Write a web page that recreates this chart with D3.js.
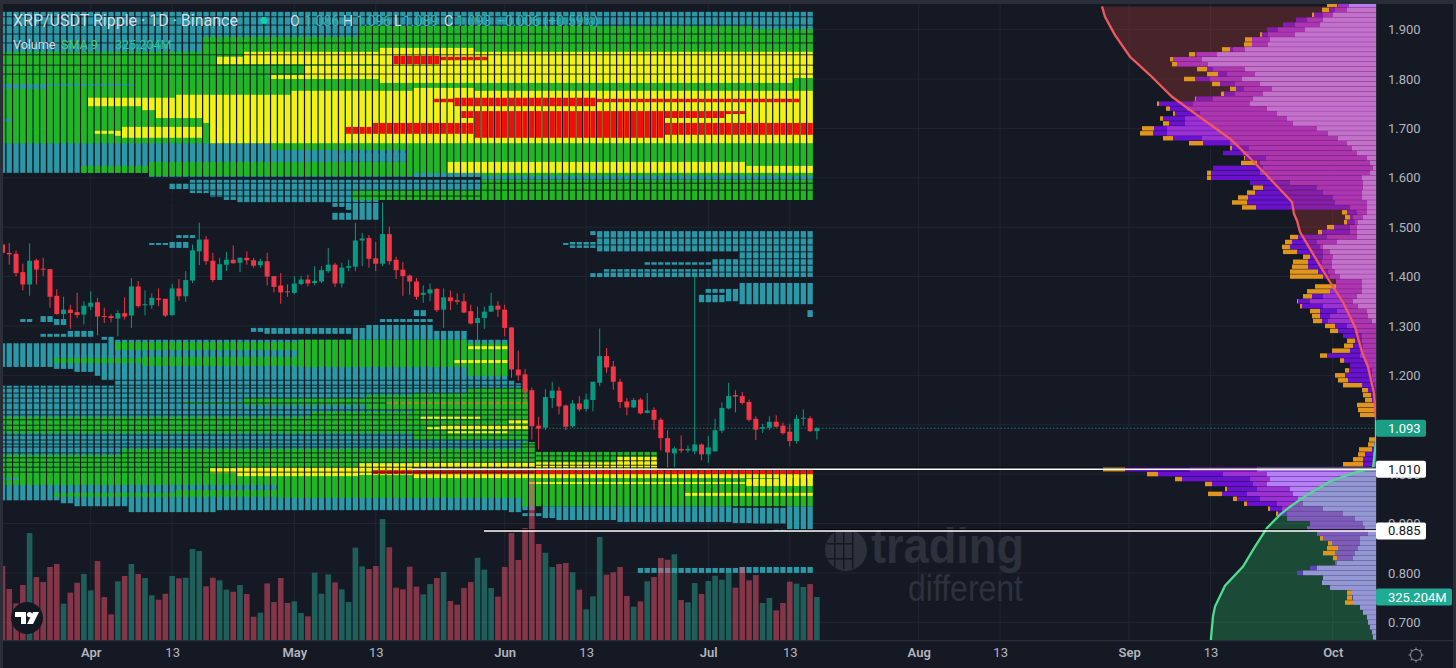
<!DOCTYPE html>
<html lang="en">
  <head>
    <meta charset="utf-8">
    <title>XRP/USDT Ripple 1D Binance</title>
    <style>
      html, body { margin: 0; padding: 0; background: #151924; overflow: hidden; }
      svg { display: block; font-family: Roboto, Arial, sans-serif; }
      .axis text { fill: #b2b5be; font-size: 13px; font-family: Roboto, Arial, sans-serif; }
      .axis .domain { display: none; }
    </style>
  </head>
  <body>
    <svg id="chart" width="1456" height="668"></svg>

    <script src="https://d3js.org/d3.v7.min.js"></script>
    <script>
      // daily candles, first bar 19 Mar
      const opens = [
        1.465,1.448,1.446,1.409,1.384,1.433,1.416,1.415,1.361,1.324,
        1.333,1.328,1.323,1.339,1.348,1.320,1.320,1.315,1.326,1.321,
        1.380,1.342,1.342,1.356,1.355,1.322,1.376,1.360,1.392,1.451,
        1.475,1.432,1.393,1.424,1.434,1.428,1.438,1.433,1.423,1.431,
        1.401,1.382,1.370,1.367,1.385,1.394,1.387,1.390,1.411,1.424,
        1.386,1.418,1.420,1.473,1.478,1.437,1.426,1.486,1.434,1.414,
        1.402,1.390,1.363,1.366,1.375,1.333,1.358,1.352,1.350,1.330,
        1.306,1.316,1.329,1.341,1.333,1.297,1.212,1.202,1.170,1.098,
        1.094,1.154,1.169,1.139,1.097,1.143,1.132,1.150,1.185,1.239,
        1.218,1.187,1.147,1.135,1.151,1.124,1.130,1.110,1.073,1.042,
        1.051,1.048,1.046,1.060,1.040,1.046,1.088,1.133,1.160,1.158,
        1.146,1.112,1.092,1.094,1.106,1.098,1.086,1.067,1.112,1.113,
        1.087];
      const closes = [
        1.448,1.445,1.407,1.384,1.432,1.414,1.414,1.359,1.324,1.333,
        1.326,1.322,1.341,1.347,1.319,1.318,1.316,1.326,1.319,1.380,
        1.340,1.344,1.357,1.353,1.321,1.376,1.360,1.393,1.453,1.475,
        1.431,1.393,1.425,1.434,1.427,1.438,1.433,1.422,1.431,1.400,
        1.379,1.368,1.368,1.386,1.394,1.386,1.391,1.413,1.424,1.386,
        1.418,1.421,1.473,1.477,1.436,1.426,1.486,1.431,1.413,1.401,
        1.390,1.359,1.367,1.374,1.332,1.358,1.350,1.349,1.327,1.305,
        1.316,1.329,1.341,1.333,1.296,1.212,1.200,1.168,1.097,1.092,
        1.156,1.169,1.137,1.096,1.143,1.131,1.151,1.187,1.239,1.216,
        1.187,1.146,1.135,1.150,1.123,1.129,1.110,1.073,1.044,1.052,
        1.048,1.051,1.060,1.040,1.054,1.089,1.134,1.158,1.157,1.144,
        1.110,1.090,1.095,1.106,1.096,1.083,1.067,1.112,1.114,1.087,
        1.093];
      const highs = [
        1.465,1.468,1.453,1.426,1.467,1.436,1.438,1.415,1.374,1.359,
        1.343,1.367,1.350,1.370,1.357,1.337,1.324,1.332,1.358,1.397,
        1.391,1.372,1.366,1.376,1.355,1.385,1.395,1.411,1.465,1.509,
        1.482,1.448,1.438,1.450,1.463,1.439,1.451,1.438,1.436,1.448,
        1.401,1.407,1.384,1.401,1.401,1.404,1.421,1.421,1.458,1.428,
        1.428,1.434,1.509,1.488,1.484,1.470,1.550,1.501,1.440,1.429,
        1.404,1.397,1.382,1.386,1.377,1.376,1.372,1.366,1.366,1.343,
        1.339,1.339,1.367,1.350,1.343,1.297,1.250,1.213,1.175,1.116,
        1.172,1.187,1.177,1.141,1.150,1.158,1.163,1.187,1.295,1.255,
        1.229,1.193,1.154,1.154,1.154,1.164,1.135,1.114,1.089,1.056,
        1.078,1.058,1.404,1.062,1.077,1.112,1.145,1.185,1.170,1.166,
        1.151,1.117,1.102,1.117,1.119,1.104,1.102,1.120,1.131,1.117,
        1.095];
      const lows = [
        1.448,1.424,1.401,1.372,1.361,1.384,1.401,1.337,1.323,1.306,
        1.294,1.316,1.303,1.332,1.281,1.306,1.307,1.279,1.313,1.296,
        1.337,1.321,1.335,1.340,1.318,1.320,1.351,1.349,1.387,1.423,
        1.424,1.389,1.393,1.411,1.426,1.409,1.424,1.418,1.418,1.382,
        1.368,1.345,1.359,1.364,1.382,1.380,1.382,1.387,1.407,1.379,
        1.378,1.411,1.411,1.421,1.418,1.411,1.421,1.424,1.395,1.361,
        1.363,1.353,1.347,1.350,1.328,1.296,1.332,1.343,1.326,1.303,
        1.268,1.294,1.328,1.318,1.279,1.195,1.189,1.148,1.070,1.050,
        1.089,1.134,1.121,1.089,1.094,1.127,1.127,1.127,1.178,1.205,
        1.171,1.134,1.119,1.134,1.121,1.123,1.090,1.048,1.013,1.013,
        1.043,1.043,1.040,1.028,1.023,1.046,1.083,1.131,1.125,1.141,
        1.107,1.069,1.083,1.089,1.094,1.080,1.056,1.062,1.098,1.085,
        1.070];
      // volume in millions
      const volumes = [
        559,386,277,416,809,476,438,552,575,275,
        358,433,499,375,597,325,194,444,484,575,
        499,469,338,305,350,484,466,471,688,673,
        406,471,451,381,365,416,348,176,207,428,
        287,469,280,292,204,179,509,350,496,436,
        383,287,698,557,537,559,915,701,396,383,
        554,403,345,423,469,514,295,267,393,438,
        622,532,393,328,552,809,605,847,1205,726,
        660,552,575,582,512,381,232,330,779,494,
        512,552,333,252,292,444,476,620,607,648,
        302,285,431,348,446,486,456,512,396,552,
        451,491,280,318,224,280,441,426,401,423,
        325.204];

      const gridPrices = [1.9,1.8,1.7,1.6,1.5,1.4,1.3,1.2,1.1,1.0,0.9,0.8,0.7];
      // 1.100 sits fully behind the last price label, so it gets no text of its own
      const priceLabels = [1.9,1.8,1.7,1.6,1.5,1.4,1.3,1.2,1.0,0.9,0.8,0.7];
      const tickDays = ["2021-04-01","2021-04-13","2021-05-01","2021-05-13","2021-06-01","2021-06-13",
        "2021-07-01","2021-07-13","2021-08-01","2021-08-13","2021-09-01","2021-09-13","2021-10-01"];
      const tickLabels = ["Apr","13","May","13","Jun","13","Jul","13","Aug","13","Sep","13","Oct"];

      // depth heatmap: [high price, low price, first bar, last bar]
      const tealBands = [
        [1.936,1.610,0,21],[1.936,1.602,22,119],[1.589,1.577,25,27],[1.596,1.569,28,30],
        [1.596,1.561,31,32],[1.596,1.555,33,34],[1.596,1.549,35,48],[1.596,1.541,49,50],
        [1.596,1.535,51,51],[1.529,1.515,49,51],[1.596,1.515,52,55],[1.596,1.575,56,70],
        [1.604,1.596,71,119],
        [1.492,1.484,87,87],[1.470,1.458,84,87],[1.468,1.464,83,83],[1.492,1.450,88,119],
        [1.450,1.399,109,119],[1.436,1.399,105,108],[1.429,1.423,95,104],[1.415,1.399,89,104],
        [1.407,1.399,87,88],[1.387,1.344,109,119],[1.375,1.350,107,108],[1.363,1.348,103,106],
        [1.375,1.367,104,106],[1.332,1.318,119,119],
        [1.484,1.478,26,28],[1.470,1.458,25,27],[1.468,1.464,22,24],
        [1.314,1.308,3,4],[1.320,1.308,6,7],[1.314,1.302,8,9],[1.284,1.278,6,9],[1.290,1.278,10,13],
        [1.278,1.272,15,15],[1.296,1.288,37,38],[1.296,1.284,39,51],[1.296,1.272,52,53],
        [1.302,1.272,54,63],[1.314,1.308,56,63],[1.332,1.320,61,62],[1.290,1.272,64,68],
        [1.265,1.217,0,7],[1.265,1.213,8,10],[1.265,1.207,11,13],[1.265,1.199,14,14],[1.265,1.190,15,15],
        [1.278,1.190,16,16],[1.180,0.947,0,8],[1.180,0.941,9,10],[1.180,0.935,11,16],
        [1.272,0.935,17,18],[1.272,0.923,19,31],[1.272,0.927,32,74],[1.190,0.923,75,75],[1.184,0.923,76,76],
        [1.144,0.927,77,77],[1.065,0.927,78,78],[0.921,0.915,77,81],[0.935,0.911,80,81],
        [0.935,0.907,82,90],[0.935,0.903,91,107],[0.932,0.901,108,110],[0.932,0.900,111,115],
        [0.935,0.887,116,119],[0.889,0.885,114,115],[0.810,0.800,94,108],[0.812,0.800,109,119]
      ];
      const greenBands = [
        [1.855,1.670,0,29],[1.885,1.670,30,39],[1.885,1.656,40,52],[1.907,1.656,53,61],
        [1.907,1.670,62,110],[1.901,1.670,111,119],[1.670,1.632,60,119],
        [1.624,1.610,12,21],[1.632,1.604,22,119],[1.575,1.555,52,70],[1.596,1.555,71,119],
        [1.267,1.251,17,43],[1.235,1.225,8,20],[1.237,1.219,21,43],[1.272,1.217,44,68],[1.265,1.199,69,74],
        [1.146,1.142,27,35],[1.154,1.140,36,53],[1.160,1.130,54,60],[1.164,1.069,61,68],[1.174,1.069,69,77],
        [1.126,1.110,46,60],[1.116,1.083,0,60],
        [1.039,0.978,0,17],[1.051,0.978,18,40],[1.051,0.952,41,76],[0.968,0.954,26,40],[0.962,0.954,8,25],
        [1.065,0.935,77,78],[1.045,0.935,79,96],[1.008,0.935,97,119]
      ];
      const tealStripes = [
        [1.790,1.780,0,6],[1.790,1.786,7,19],[1.720,1.713,0,1],
        [1.656,1.632,40,49],[1.650,1.634,50,59],[1.240,1.237,8,20],[0.992,0.988,0,2],
        [1.610,1.602,61,70]
      ];
      const yellowBands = [
        [1.855,1.830,36,55],[1.845,1.830,32,35],[1.828,1.808,45,55],[1.808,1.800,40,55],
        [1.863,1.792,56,69],[1.855,1.792,70,116],[1.855,1.802,117,119],
        [1.762,1.745,13,20],[1.762,1.737,21,22],[1.762,1.721,23,25],[1.768,1.721,26,29],[1.768,1.711,30,30],
        [1.768,1.670,31,42],[1.776,1.670,43,60],[1.782,1.670,61,69],[1.776,1.670,70,119],
        [1.695,1.689,14,16],[1.695,1.685,17,17],[1.703,1.681,18,29],
        [1.632,1.610,66,109],[1.624,1.610,110,119],
        [1.146,1.142,57,77],[1.116,1.112,62,70],[1.110,1.103,75,77],[1.095,1.091,63,65],[1.099,1.091,65,77],
        [1.087,1.083,66,74],[1.259,1.253,69,74],[1.231,1.225,67,74],
        [1.012,1.002,31,34],[1.014,0.996,35,52],[1.022,0.998,53,60],[1.024,1.008,61,96],[1.035,1.010,91,96],
        [1.000,0.992,61,119],[0.984,0.980,78,110],[0.990,0.976,110,114],[0.998,0.976,115,119],[0.962,0.956,101,119]
      ];
      const redBands = [
        [1.847,1.830,58,64],[1.845,1.838,65,71],
        [1.703,1.689,51,54],[1.711,1.689,55,69],[1.735,1.721,68,69],[1.735,1.681,70,97],
        [1.711,1.687,98,119],[1.735,1.721,98,106],[1.735,1.729,107,109],
        [1.760,1.753,64,66],[1.762,1.745,67,87],[1.760,1.753,88,117],
        [1.008,1.000,55,119]
      ];
      // thin dark rows inside the heatmap: prices and bar range
      const gapRows = [
        {prices:[1.926,1.909,1.891,1.873,1.849,1.828,1.810], from:0, to:119},
        {prices:[1.589,1.575,1.563,1.550], from:25, to:70},
        {prices:[1.589,1.575], from:71, to:119},
        {prices:[1.478,1.464,1.450], from:84, to:119},
        {prices:[1.436,1.423,1.409], from:87, to:119},
        {prices:[1.190,1.180,1.174,1.164,1.154,1.144,1.130,1.120,1.110,1.099,1.089,1.079,1.069,1.061,1.055,1.043,1.033,1.024,1.014,1.004], from:0, to:78},
        {prices:[1.037,1.027,1.018], from:79, to:96}
      ];

      // volume profile, one row every 0.01 from 1.95 down to 0.66; outer edge of each layer
      const profileTop = 1.95, profileStep = 0.01;
      const profileOrange = [
        49,54,64,80,93,109,116,131,132,154, 187,206,204,179,169,192,164,146,155,181,
        219,210,203,216,213,234,236,213,187,146, 153,132,135,163,169,169,126,123,129,138,
        144,134,34,31,32,49,58,86,91,94, 93,73,83,84,86,86,40,61,69,73,
        79,76,66,64,63,51,46,33,29,32, 44,56,36,26,31,41,38,33,14,13,
        11,19,18,16,0,0,0,0,7,8, 17,18,23,33,273,229,201,171,151,168,
        143,132,108,100,89,66,69,59,56,48, 49,53,43,41,66,79,53,54,46,29,
        29,31,16,13,9,8,6,4,3,2];
      const profilePurple = [
        39,47,62,80,93,109,114,124,124,146, 181,203,199,169,158,181,156,140,152,180,
        217,206,201,213,207,222,223,203,173,144, 153,131,119,163,165,165,126,113,121,128,
        129,120,29,26,29,42,54,78,84,86, 79,66,68,68,58,53,40,40,46,64,
        78,74,56,56,54,41,38,33,21,23, 26,49,32,26,27,31,28,14,8,5,
        4,2,1,0,0,0,0,0,0,2, 4,11,13,13,251,218,194,164,149,154,
        139,129,106,98,89,66,69,59,53,44, 38,41,39,41,66,79,53,54,46,24,
        24,23,16,13,9,8,6,4,3,2];
      const profileViolet = [
        38,41,53,69,81,98,108,124,124,143, 179,203,199,163,149,166,141,132,141,163,
        183,189,176,191,191,209,209,174,146,127, 133,110,116,113,116,109,86,59,53,43,
        41,26,19,23,21,26,26,49,59,56, 53,53,54,56,48,46,40,40,46,53,
        66,53,39,46,48,29,21,14,14,13, 14,16,11,8,4,4,3,1,0,0,
        0,0,0,0,0,0,0,0,0,0, 0,3,3,3,186,153,126,123,119,129,
        116,99,94,89,89,66,69,59,53,44, 38,41,39,41,59,73,53,54,46,24,
        23,23,16,13,9,8,6,4,3,2];
      const profileLilac = [
        27,29,43,53,56,71,81,106,108,131, 159,174,168,131,121,134,116,104,113,123,
        126,109,99,89,83,59,48,38,29,24, 19,9,6,3,6,14,13,13,14,14,
        9,9,9,13,18,19,19,19,39,53, 46,43,44,44,41,36,14,14,14,19,
        23,18,9,8,4,0,0,0,0,0, 0,0,0,0,0,0,0,0,0,0,
        0,0,0,0,0,0,0,0,0,0, 0,0,0,0,119,109,106,109,86,83,
        78,73,53,33,21,13,11,8,16,16, 18,21,23,39,59,73,53,54,46,24,
        23,23,16,13,9,8,6,4,3,2];

      // the overlay curves on the profile: [price, value]
      const redCurve = [[1.947,274],[1.926,271],[1.889,261],[1.845,246],[1.808,226],[1.764,204],[1.727,179],
        [1.679,146],[1.646,129],[1.598,106],[1.551,84],[1.527,82],[1.513,79],[1.49,76],[1.456,66],[1.422,56],
        [1.389,46],[1.348,33],[1.298,21],[1.247,14],[1.217,8],[1.163,2],[1.11,0]];
      const greenCurve = [[1.11,0],[1.069,0],[1.049,1],[1.012,3],[1.002,23],[0.985,46],[0.958,69],[0.934,86],
        [0.918,96],[0.891,109],[0.853,121],[0.813,133],[0.774,151],[0.732,161],[0.712,163],[0.668,165],[0.655,165]];

      const lastPrice = 1.093, supportHigh = 1.010, supportLow = 0.885, lastVolume = 325.204;

      const colors = {
        bg: "#151924", frame: "#2a2e39", grid: "#222631",
        teal: "#2a98a6", green: "#1fb81f", yellow: "#f8f010", red: "#f20d0d",
        up: "#089981", down: "#f23645",
        orange: "#e0951e", purple: "#6a10d0", violet: "#9b30d3", lilac: "#b481f4"
      };

      const svg = d3.select("#chart");
      const width = 1456, height = 668;
      const pane = {left: 3, top: 4, right: 1376, bottom: 640};

      const firstBar = new Date(Date.UTC(2021, 2, 19));
      const dates = opens.map((_, i) => d3.utcDay.offset(firstBar, i));
      const tickDates = tickDays.map(d => new Date(d + "T00:00:00Z"));

      const x = d3.scaleUtc().domain([tickDates[0], tickDates[12]]).range([90.7, 1332.7]);
      const y = d3.scaleLinear().domain([1.9, 0.7]).range([29.6, 622.3]);
      const yVol = d3.scaleLinear().domain([0, lastVolume]).range([640, 597]);
      const xProfile = d3.scaleLinear().domain([0, 300]).range([pane.right, pane.right - 300]);

      svg.append("rect").attr("width", width).attr("height", height).attr("fill", colors.bg);

      svg.append("defs").append("clipPath").attr("id", "pane").append("rect")
        .attr("x", pane.left).attr("y", pane.top)
        .attr("width", pane.right - pane.left).attr("height", pane.bottom - pane.top);

      const plot = svg.append("g").attr("clip-path", "url(#pane)");

      // grid
      plot.append("g").selectAll("line").data(tickDates).join("line")
        .attr("x1", d => x(d)).attr("x2", d => x(d))
        .attr("y1", pane.top).attr("y2", pane.bottom)
        .attr("stroke", colors.grid);
      plot.append("g").selectAll("line").data(gridPrices).join("line")
        .attr("x1", pane.left).attr("x2", pane.right)
        .attr("y1", d => y(d)).attr("y2", d => y(d))
        .attr("stroke", colors.grid);

      // watermark
      const mark = plot.append("g").attr("fill", "#2d313c");
      mark.append("circle").attr("cx", 846).attr("cy", 550).attr("r", 21);
      [834, 843, 852].forEach(v => mark.append("rect").attr("x", v).attr("y", 531).attr("width", 1.5).attr("height", 38).attr("fill", colors.bg));
      [543, 558].forEach(v => mark.append("rect").attr("x", 827).attr("y", v).attr("width", 26).attr("height", 1.5).attr("fill", colors.bg));
      mark.append("text").attr("x", 871).attr("y", 563).attr("font-size", 50).attr("font-weight", 800)
        .attr("font-family", "Liberation Sans, Arial, sans-serif")
        .attr("textLength", 153).attr("lengthAdjust", "spacingAndGlyphs").text("trading");
      mark.append("text").attr("x", 908).attr("y", 601).attr("font-size", 36)
        .attr("font-family", "Liberation Sans, Arial, sans-serif")
        .attr("textLength", 115).attr("lengthAdjust", "spacingAndGlyphs").text("different");

      // last price dotted line
      plot.append("line")
        .attr("x1", pane.left).attr("x2", pane.right)
        .attr("y1", y(lastPrice)).attr("y2", y(lastPrice))
        .attr("stroke", colors.up).attr("stroke-dasharray", "1.5 2").attr("opacity", .8);

      // heatmap
      const columnWidth = 5.3;
      const layers = [
        {bands: tealBands, color: colors.teal},
        {bands: greenBands, color: colors.green},
        {bands: tealStripes, color: colors.teal},
        {bands: yellowBands, color: colors.yellow},
        {bands: redBands, color: colors.red}
      ];
      const heat = plot.append("g");
      layers.forEach(layer => {
        const cells = layer.bands.flatMap(b => d3.range(b[2], b[3] + 1).map(i => ({hi: b[0], lo: b[1], i})));
        heat.append("g").attr("fill", layer.color).selectAll("rect").data(cells).join("rect")
          .attr("x", d => x(dates[d.i]) - columnWidth / 2)
          .attr("y", d => y(d.hi))
          .attr("width", columnWidth)
          .attr("height", d => y(d.lo) - y(d.hi));
      });
      gapRows.forEach(row => {
        heat.append("g").selectAll("line").data(row.prices).join("line")
          .attr("x1", x(dates[row.from]) - 3.4).attr("x2", x(dates[row.to]) + 3.4)
          .attr("y1", d => y(d)).attr("y2", d => y(d))
          .attr("stroke", colors.bg).attr("stroke-width", 1).attr("opacity", .85);
      });

      // volume
      plot.append("g").selectAll("rect").data(volumes).join("rect")
        .attr("x", (d, i) => x(dates[i]) - 2.8)
        .attr("y", d => yVol(d))
        .attr("width", 5.6)
        .attr("height", d => yVol(0) - yVol(d))
        .attr("fill", (d, i) => closes[i] >= opens[i] ? "#2ba38f" : "#f2546b")
        .attr("opacity", .5);

      // candles
      const candleGroup = plot.append("g").selectAll("g").data(dates).join("g")
        .attr("fill", (d, i) => closes[i] >= opens[i] ? colors.up : colors.down)
        .attr("stroke", (d, i) => closes[i] >= opens[i] ? colors.up : colors.down);
      candleGroup.append("line")
        .attr("x1", d => x(d)).attr("x2", d => x(d))
        .attr("y1", (d, i) => y(highs[i])).attr("y2", (d, i) => y(lows[i]))
        .attr("stroke-width", 1);
      candleGroup.append("rect")
        .attr("x", d => x(d) - 2.5)
        .attr("y", (d, i) => y(Math.max(opens[i], closes[i])))
        .attr("width", 5)
        .attr("height", (d, i) => Math.max(1, y(Math.min(opens[i], closes[i])) - y(Math.max(opens[i], closes[i]))))
        .attr("stroke", "none");

      // volume profile, orange tips go on top of the shaded areas
      const rowPrice = i => profileTop - i * profileStep;
      const rowHeight = Math.abs(y(0) - y(profileStep)) - 0.5;
      const profile = plot.append("g");
      [[profilePurple, colors.purple], [profileViolet, colors.violet], [profileLilac, colors.lilac]]
        .forEach(([values, color]) => {
          profile.append("g").attr("fill", color).selectAll("rect").data(values).join("rect")
            .attr("x", d => xProfile(d))
            .attr("y", (d, i) => y(rowPrice(i)) - rowHeight / 2)
            .attr("width", d => pane.right - xProfile(d))
            .attr("height", rowHeight);
        });

      // shaded area from the curve to the price scale
      const curveArea = d3.area().y(d => y(d[0])).x0(xProfile(0)).x1(d => xProfile(d[1]));
      const curveLine = d3.line().y(d => y(d[0])).x(d => xProfile(d[1]));
      plot.append("path").attr("d", curveArea(redCurve)).attr("fill", "#e8483f").attr("opacity", .24);
      plot.append("path").attr("d", curveArea(greenCurve)).attr("fill", "#2ee06a").attr("opacity", .25);

      plot.append("g").attr("fill", colors.orange).selectAll("rect").data(profileOrange).join("rect")
        .attr("x", d => xProfile(d))
        .attr("y", (d, i) => y(rowPrice(i)) - rowHeight / 2)
        .attr("width", (d, i) => xProfile(profilePurple[i]) - xProfile(d))
        .attr("height", rowHeight);

      plot.append("path").attr("d", curveLine(redCurve)).attr("fill", "none").attr("stroke", "#f0585f").attr("stroke-width", 2.3);
      plot.append("path").attr("d", curveLine(greenCurve)).attr("fill", "none").attr("stroke", "#4fdc8e").attr("stroke-width", 2.3);

      // support lines
      [[supportHigh, 412], [supportLow, 484]].forEach(([price, startX]) => {
        plot.append("line").attr("x1", startX).attr("x2", pane.right)
          .attr("y1", y(price) - 1.2).attr("y2", y(price) - 1.2).attr("stroke", "#000").attr("stroke-width", 1);
        plot.append("line").attr("x1", startX).attr("x2", pane.right)
          .attr("y1", y(price)).attr("y2", y(price)).attr("stroke", "#fff").attr("stroke-width", 1.5);
      });

      // frame
      const frame = svg.append("g").attr("fill", colors.frame);
      frame.append("rect").attr("width", width).attr("height", pane.top);
      frame.append("rect").attr("width", pane.left).attr("height", height);
      frame.append("rect").attr("x", width - 3).attr("width", 3).attr("height", height);
      frame.append("rect").attr("y", pane.bottom).attr("width", width).attr("height", 1.2);
      frame.append("rect").attr("x", pane.right).attr("y", pane.top).attr("width", 1).attr("height", pane.bottom - pane.top);

      // axes
      const timeAxis = svg.append("g").attr("class", "axis")
        .attr("transform", "translate(0,647)")
        .call(d3.axisBottom(x).tickValues(tickDates).tickFormat((d, i) => tickLabels[i]).tickSize(0).tickPadding(0));
      timeAxis.selectAll("text")
        .attr("dy", "0.8em")
        .attr("font-weight", (d, i) => tickLabels[i] === "13" ? 400 : 600);
      svg.append("g").attr("class", "axis")
        .attr("transform", `translate(${pane.right},0)`)
        .call(d3.axisRight(y).tickValues(priceLabels).tickFormat(d3.format(".3f")).tickSize(0).tickPadding(12));

      // price scale labels
      const labelData = [
        {text: d3.format(".3f")(lastPrice), cy: y(lastPrice), w: 50, fill: "#1b9e86", color: "#fff"},
        {text: d3.format(".3f")(supportHigh), cy: y(supportHigh), w: 50, fill: "#fff", color: "#131722"},
        {text: d3.format(".3f")(supportLow), cy: y(supportLow), w: 50, fill: "#fff", color: "#131722"},
        {text: lastVolume.toFixed(3) + "M", cy: yVol(lastVolume), w: 76, fill: "#22ab94", color: "#fff"}
      ];
      const labels = svg.append("g").selectAll("g").data(labelData).join("g")
        .attr("transform", d => `translate(${pane.right},${d.cy})`);
      labels.append("rect").attr("y", -8.5).attr("width", d => d.w).attr("height", 17).attr("rx", 2).attr("fill", d => d.fill);
      labels.append("text").attr("x", 12).attr("dy", "0.35em").attr("font-size", 13).attr("fill", d => d.color).text(d => d.text);

      // legend
      const legend = svg.append("g");
      const legendText = (tx, ty, text, color, size) => legend.append("text")
        .attr("x", tx).attr("y", ty).attr("font-size", size).attr("fill", color).text(text);
      legendText(13, 26, "XRP/USDT Ripple · 1D · Binance", "#d8dbe3", 16);
      legend.append("circle").attr("cx", 264).attr("cy", 20.5).attr("r", 3.5).attr("fill", "#0fd0b0");
      [[290, "O"], [343, "H"], [394, "L"], [444, "C"]].forEach(d => legendText(d[0], 26, d[1], "#d8dbe3", 14));
      [[304, "1.086"], [356, "1.096"], [403, "1.089"], [456, "1.093"], [497, "+0.006 (+0.59%)"]]
        .forEach(d => legendText(d[0], 26, d[1], "#38b5ae", 14));
      legendText(13, 49, "Volume", "#d8dbe3", 12.5);
      legendText(61, 49, "SMA 9", "#4bd060", 12.5);
      legendText(115, 49, "325.204M", "#2ec59c", 12.5);

      // TradingView badge
      const badge = svg.append("g").attr("transform", "translate(27,618)");
      badge.append("circle").attr("r", 16).attr("fill", "#131722");
      badge.append("path").attr("fill", "#fff").attr("d", "M-12 -6H-1V6H-6V-1H-12Z M6 -6H12L6 6H0Z");
      badge.append("circle").attr("cx", 2.5).attr("cy", -3.4).attr("r", 2.6).attr("fill", "#fff");

      // settings icon
      const gear = svg.append("g").attr("transform", "translate(1416,655)")
        .attr("stroke", "#8a8f9c").attr("fill", "none");
      gear.append("circle").attr("r", 5.5);
      gear.selectAll("line").data(d3.range(8)).join("line")
        .attr("y1", -5.5).attr("y2", -7.5)
        .attr("transform", d => `rotate(${d * 45})`);
    </script>
  </body>
</html>
